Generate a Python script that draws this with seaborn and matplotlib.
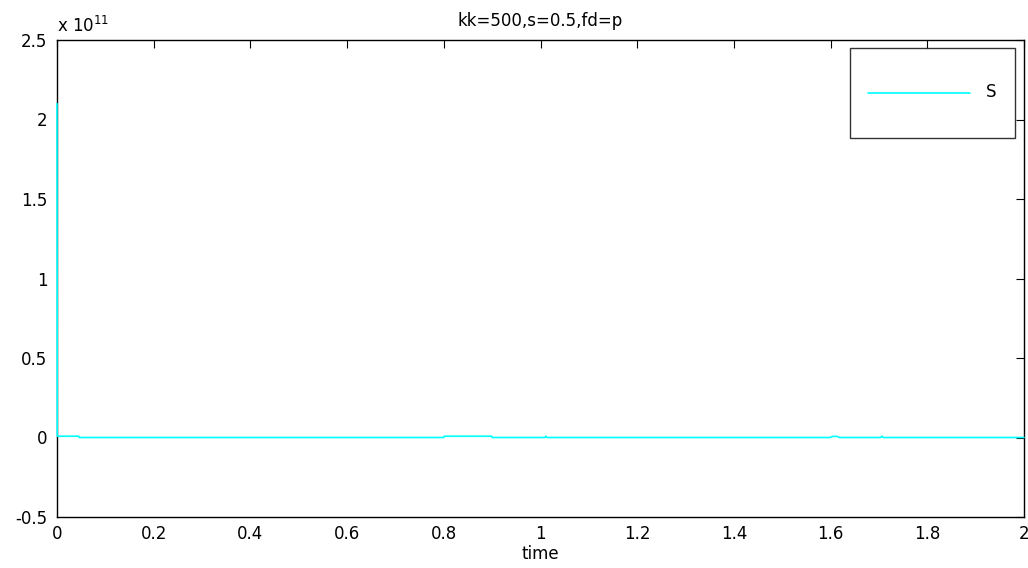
import numpy as np
import pandas as pd
import matplotlib
matplotlib.use("Agg")
import matplotlib.pyplot as plt
from matplotlib.ticker import FixedLocator
import seaborn as sns

# Simulated response S over time (sparse samples of the trace)
time = [0.0, 0.0005, 0.001, 0.045, 0.046, 0.80, 0.801, 0.899, 0.90, 1.009,
        1.011, 1.013, 1.60, 1.604, 1.614, 1.618, 1.703, 1.706, 1.709, 2.0]
S = [2.1e11, 1.0e9, 0.8e9, 0.8e9, 0.0, 0.0, 0.8e9, 0.8e9, 0.0, 0.0,
     0.8e9, 0.0, 0.0, 0.7e9, 0.7e9, 0.0, 0.0, 0.8e9, 0.0, 0.0]

x_ticks = [0, 0.2, 0.4, 0.6, 0.8, 1.0, 1.2, 1.4, 1.6, 1.8, 2.0]
x_tick_labels = ["0", "0.2", "0.4", "0.6", "0.8", "1", "1.2", "1.4", "1.6", "1.8", "2"]
y_ticks = [-0.5e11, 0, 0.5e11, 1e11, 1.5e11, 2e11, 2.5e11]
y_tick_labels = ["-0.5", "0", "0.5", "1", "1.5", "2", "2.5"]

title = "kk=500,s=0.5,fd=p"
x_label = "time"
series_name = "S"

df = pd.DataFrame({"time": time, "S": S})

sns.set_style("white")
plt.rcParams["font.family"] = ["DejaVu Sans"]
plt.rcParams["text.color"] = "black"
plt.rcParams["axes.labelcolor"] = "black"
plt.rcParams["xtick.color"] = "black"
plt.rcParams["ytick.color"] = "black"

fig = plt.figure(figsize=(10.28, 5.68), dpi=100)
ax = fig.add_axes([57 / 1028, 51 / 568, 967 / 1028, 477 / 568])

sns.lineplot(data=df, x="time", y="S", ax=ax, color="#00FFFF", linewidth=1.2,
             label=series_name, estimator=None, sort=False, zorder=3)
for ln in ax.get_lines():
    ln.set_clip_on(False)

ax.set_xlim(0, 2)
ax.set_ylim(-0.5e11, 2.5e11)
ax.xaxis.set_major_locator(FixedLocator(x_ticks))
ax.set_xticklabels(x_tick_labels)
ax.yaxis.set_major_locator(FixedLocator(y_ticks))
ax.set_yticklabels(y_tick_labels)

ax.tick_params(direction="in", top=True, right=True, length=6, width=0.8,
               colors="black", labelsize=12)
ax.tick_params(axis="y", pad=7)
ax.tick_params(axis="x", pad=6)
for sp in ax.spines.values():
    sp.set_color("black")
    sp.set_linewidth(1.0)
    sp.set_zorder(2)

ax.set_xlabel(x_label, fontsize=12, labelpad=1, color="black")
ax.set_ylabel("")
ax.set_title(title, fontsize=12, pad=10, color="black")

# exponent marker above the y axis
ax.text(0.0, 1.008, r"x 10$^{11}$", transform=ax.transAxes, fontsize=12,
        ha="left", va="bottom", color="black")

leg = ax.legend(loc="upper right", bbox_to_anchor=(1 - 9 / 967, 1 - 8 / 477),
                borderaxespad=0, fontsize=12, frameon=True, fancybox=False,
                handlelength=6.1, handletextpad=1.0, borderpad=1.1,
                handleheight=4.5)
leg.get_frame().set_edgecolor("black")
leg.get_frame().set_linewidth(1.0)
for t in leg.get_texts():
    t.set_color("black")
# bring the legend sample line level with its label
for hl in leg.get_lines():
    hl.set_ydata(np.asarray(hl.get_ydata()) - 8.0)

fig.savefig("out.png", dpi=100, facecolor="white")
